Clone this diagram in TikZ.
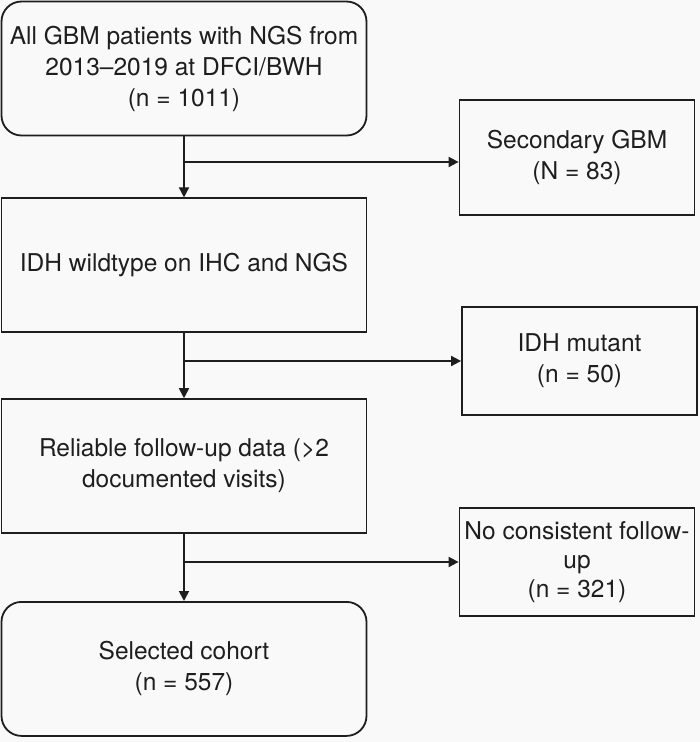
\documentclass[tikz,border=0pt]{standalone}
\usepackage{fontspec}
\setmainfont{TeX Gyre Heros}
\usetikzlibrary{arrows.meta}
\usetikzlibrary{positioning}
\definecolor{bgcol}{HTML}{F9F9F9}
\definecolor{linecol}{HTML}{1E1E1E}

\begin{document}
\begin{tikzpicture}[x=1pt,y=-1pt,node distance = 64pt]
\tikzstyle{box}=[rectangle,draw=linecol,line width=1.8pt,fill=bgcol,text=linecol,align=center,inner sep=2pt,minimum width=365pt,minimum height=134pt,font=\fontsize{24.5}{31}\selectfont]
\tikzstyle{rbox}=[box,rounded corners=20pt]
\tikzstyle{sbox}=[box,minimum width=235pt]
\tikzstyle{arr}=[-{Triangle[length=10pt,width=10pt]},draw=linecol,line width=1.8pt]
\fill[bgcol] (0,0) rectangle (700,742);
\useasboundingbox (0,0) rectangle (700,742);
% main column
\node[rbox] 	(all)  	at (184,68.5)		{All GBM patients with NGS from\\2013--2019 at DFCI/BWH\\(n = 1011)};
\node[box] 	(wild)  	[below = 61pt of all]		{IDH wildtype on IHC and NGS};
\node[box] 	(follow)  	[below = 65pt of wild]		{Reliable follow-up data (>2\\documented visits)};
\node[rbox] 	(cohort)  	[below = 67pt of follow]		{Selected cohort\\(n = 557)};
% excluded
\node[sbox, minimum height=115pt] 	(second)  	at (577,157.5)		{Secondary GBM\\(N = 83)};
\node[sbox, minimum height=108pt] 	(mutant)  	at (579.5,361)		{IDH mutant\\(n = 50)};
\node[sbox, minimum height=108pt, font=\fontsize{24.5}{29}\selectfont] 	(nofollow)  	at (577,562)		{No consistent follow-\\up\\(n = 321)};
\coordinate (b1) at (184,162);
\coordinate (b2) at (wild.south |- mutant.west);
\coordinate (b3) at (follow.south |- nofollow.west);
\draw[arr] (all) -- (wild);
\draw[arr] (wild) -- (follow);
\draw[arr] (follow) -- (cohort);
\draw[arr] (b1) -- (b1 -| second.west);
\draw[arr] (b2) -- (mutant.west);
\draw[arr] (b3) -- (nofollow.west);
\end{tikzpicture}
\end{document}
